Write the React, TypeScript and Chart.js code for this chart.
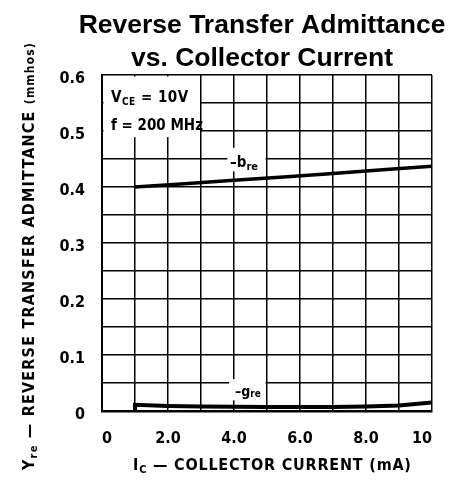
import React, { useEffect, useRef } from "react";
import { Chart, registerables } from "chart.js";

Chart.register(...registerables);

// ---- data ----
const breCurrent = [1, 2.5, 4, 5.5, 7, 8.5, 10];
const breValue = [0.400, 0.406, 0.412, 0.418, 0.424, 0.431, 0.437];
const greCurrent = [1, 1, 2, 3, 5, 7, 8, 9, 10];
const greValue = [0, 0.011, 0.009, 0.008, 0.007, 0.007, 0.008, 0.010, 0.015];

const xTickValues = [0, 2, 4, 6, 8, 10];
const xTickLabels = ["0", "2.0", "4.0", "6.0", "8.0", "10"];
const yTickValues = [0, 0.1, 0.2, 0.3, 0.4, 0.5, 0.6];
const yTickLabels = ["0", "0.1", "0.2", "0.3", "0.4", "0.5", "0.6"];

const titleLines = ["Reverse Transfer Admittance", "vs. Collector Current"];

const COND = "'DejaVu Sans Condensed', 'Liberation Sans Narrow', sans-serif";
const SANS = "'Liberation Sans', Arial, sans-serif";

type Part = { t: string; size: number; dy?: number; family?: string };

function drawParts(ctx: CanvasRenderingContext2D, parts: Part[], x: number, y: number, align: "left" | "center", spacing = 0) {
  (ctx as any).letterSpacing = `${spacing}px`;
  let w = 0;
  for (const p of parts) {
    ctx.font = `bold ${p.size}px ${p.family ?? COND}`;
    w += ctx.measureText(p.t).width;
  }
  let cx = align === "center" ? x - w / 2 : x;
  ctx.textAlign = "left";
  ctx.textBaseline = "alphabetic";
  for (const p of parts) {
    ctx.font = `bold ${p.size}px ${p.family ?? COND}`;
    ctx.fillText(p.t, cx, y + (p.dy ?? 0));
    cx += ctx.measureText(p.t).width;
  }
  (ctx as any).letterSpacing = "0px";
}

const textPlugin = {
  id: "textPlugin",
  beforeDatasetsDraw(chart: any) {
    const ctx = chart.ctx as CanvasRenderingContext2D;
    const xs = chart.scales.x;
    const ys = chart.scales.y;
    const ca = chart.chartArea;
    ctx.save();
    ctx.fillStyle = "#ffffff";
    // condition box
    const l1 = ca.left + 1.5, t1 = ca.top + 1.5;
    ctx.fillRect(l1, t1, xs.getPixelForValue(3) - 1 - l1, ys.getPixelForValue(0.489) - t1);
    // -bre box
    const bx = xs.getPixelForValue(3.8), by = ys.getPixelForValue(0.47);
    ctx.fillRect(bx, by, xs.getPixelForValue(5) - 1.5 - bx, ys.getPixelForValue(0.428) - by);
    // -gre box
    const gx = xs.getPixelForValue(3.85), gy = ys.getPixelForValue(0.057);
    ctx.fillRect(gx, gy, xs.getPixelForValue(5) - 1.5 - gx, ys.getPixelForValue(0.019) - gy);
    ctx.restore();
  },
  afterDraw(chart: any) {
    const ctx = chart.ctx as CanvasRenderingContext2D;
    const ca = chart.chartArea;
    ctx.save();
    ctx.fillStyle = "#000000";
    // title
    drawParts(ctx, [{ t: titleLines[0], size: 26.5, family: SANS }], 262, 33, "center");
    drawParts(ctx, [{ t: titleLines[1], size: 26.5, family: SANS }], 262, 66, "center");
    // conditions
    drawParts(ctx, [
      { t: "V", size: 15 },
      { t: "CE", size: 10, dy: 3 },
      { t: " = 10V", size: 15 },
    ], ca.left + 9, ca.top + 27, "left", 0.5);
    drawParts(ctx, [{ t: "f = 200 MHz", size: 15 }], ca.left + 9, ca.top + 55, "left");
    // curve labels
    drawParts(ctx, [
      { t: "\u2013b", size: 15 },
      { t: "re", size: 11, dy: 3 },
    ], 230, 167, "left");
    drawParts(ctx, [
      { t: "\u2013g", size: 14 },
      { t: "re", size: 10, dy: 1 },
    ], 235, 396, "left");
    // x-axis title
    drawParts(ctx, [
      { t: "I", size: 16 },
      { t: "C", size: 11, dy: 3 },
      { t: " \u2014 COLLECTOR CURRENT (mA)", size: 16 },
    ], 133, 470, "left", 0.8);
    // y-axis title (rotated)
    ctx.translate(34, 470);
    ctx.rotate(-Math.PI / 2);
    drawParts(ctx, [
      { t: "Y", size: 16 },
      { t: "re", size: 11, dy: 3 },
      { t: " \u2014 REVERSE TRANSFER ADMITTANCE ", size: 16 },
      { t: "(mmhos)", size: 12 },
    ], 0, 0, "left", 1.2);
    ctx.restore();
  },
};

export default function App() {
  const ref = useRef<HTMLCanvasElement | null>(null);
  useEffect(() => {
    if (!ref.current) return;
    const chart = new Chart(ref.current, {
      type: "line",
      data: {
        datasets: [
          {
            label: "-bre",
            data: breCurrent.map((x, i) => ({ x, y: breValue[i] })),
            borderColor: "#000",
            borderWidth: 3.5,
            pointRadius: 0,
            tension: 0,
          },
          {
            label: "-gre",
            data: greCurrent.map((x, i) => ({ x, y: greValue[i] })),
            borderColor: "#000",
            borderWidth: 4,
            pointRadius: 0,
            tension: 0,
          },
        ],
      },
      plugins: [textPlugin],
      options: {
        animation: false,
        responsive: false,
        maintainAspectRatio: false,
        layout: { padding: { top: 75, left: 0, right: 12, bottom: 0 } },
        plugins: { legend: { display: false }, tooltip: { enabled: false }, title: { display: false } },
        scales: {
          x: {
            type: "linear",
            min: 0,
            max: 10,
            afterFit: (s: any) => { s.height = 74; },
            grid: { color: "#000", lineWidth: 1.5, drawTicks: false },
            border: { color: "#000", width: 2.5 },
            ticks: {
              stepSize: 1,
              autoSkip: false,
              maxRotation: 0,
              align: "inner",
              padding: 18,
              color: "#000",
              font: { family: COND, size: 16, weight: "bold" },
              callback: (v: any) => {
                const i = xTickValues.indexOf(Number(v));
                return i >= 0 ? xTickLabels[i] : "";
              },
            },
          },
          y: {
            type: "linear",
            min: 0,
            max: 0.6,
            afterFit: (s: any) => { s.width = 102; },
            grid: { color: "#000", lineWidth: 1.5, drawTicks: false },
            border: { color: "#000", width: 2 },
            ticks: {
              stepSize: 0.05,
              autoSkip: false,
              padding: 17,
              labelOffset: 4,
              color: "#000",
              font: { family: COND, size: 16, weight: "bold" },
              callback: (v: any) => {
                const i = yTickValues.findIndex((t) => Math.abs(t - Number(v)) < 1e-6);
                return i >= 0 ? yTickLabels[i] : "";
              },
            },
          },
        },
      },
    } as any);
    return () => chart.destroy();
  }, []);
  return (
    <div style={{ position: "absolute", left: 0, top: 0, width: 450, height: 485, background: "#fff" }}>
      <canvas ref={ref} width={450} height={485} style={{ width: 450, height: 485 }} />
    </div>
  );
}
